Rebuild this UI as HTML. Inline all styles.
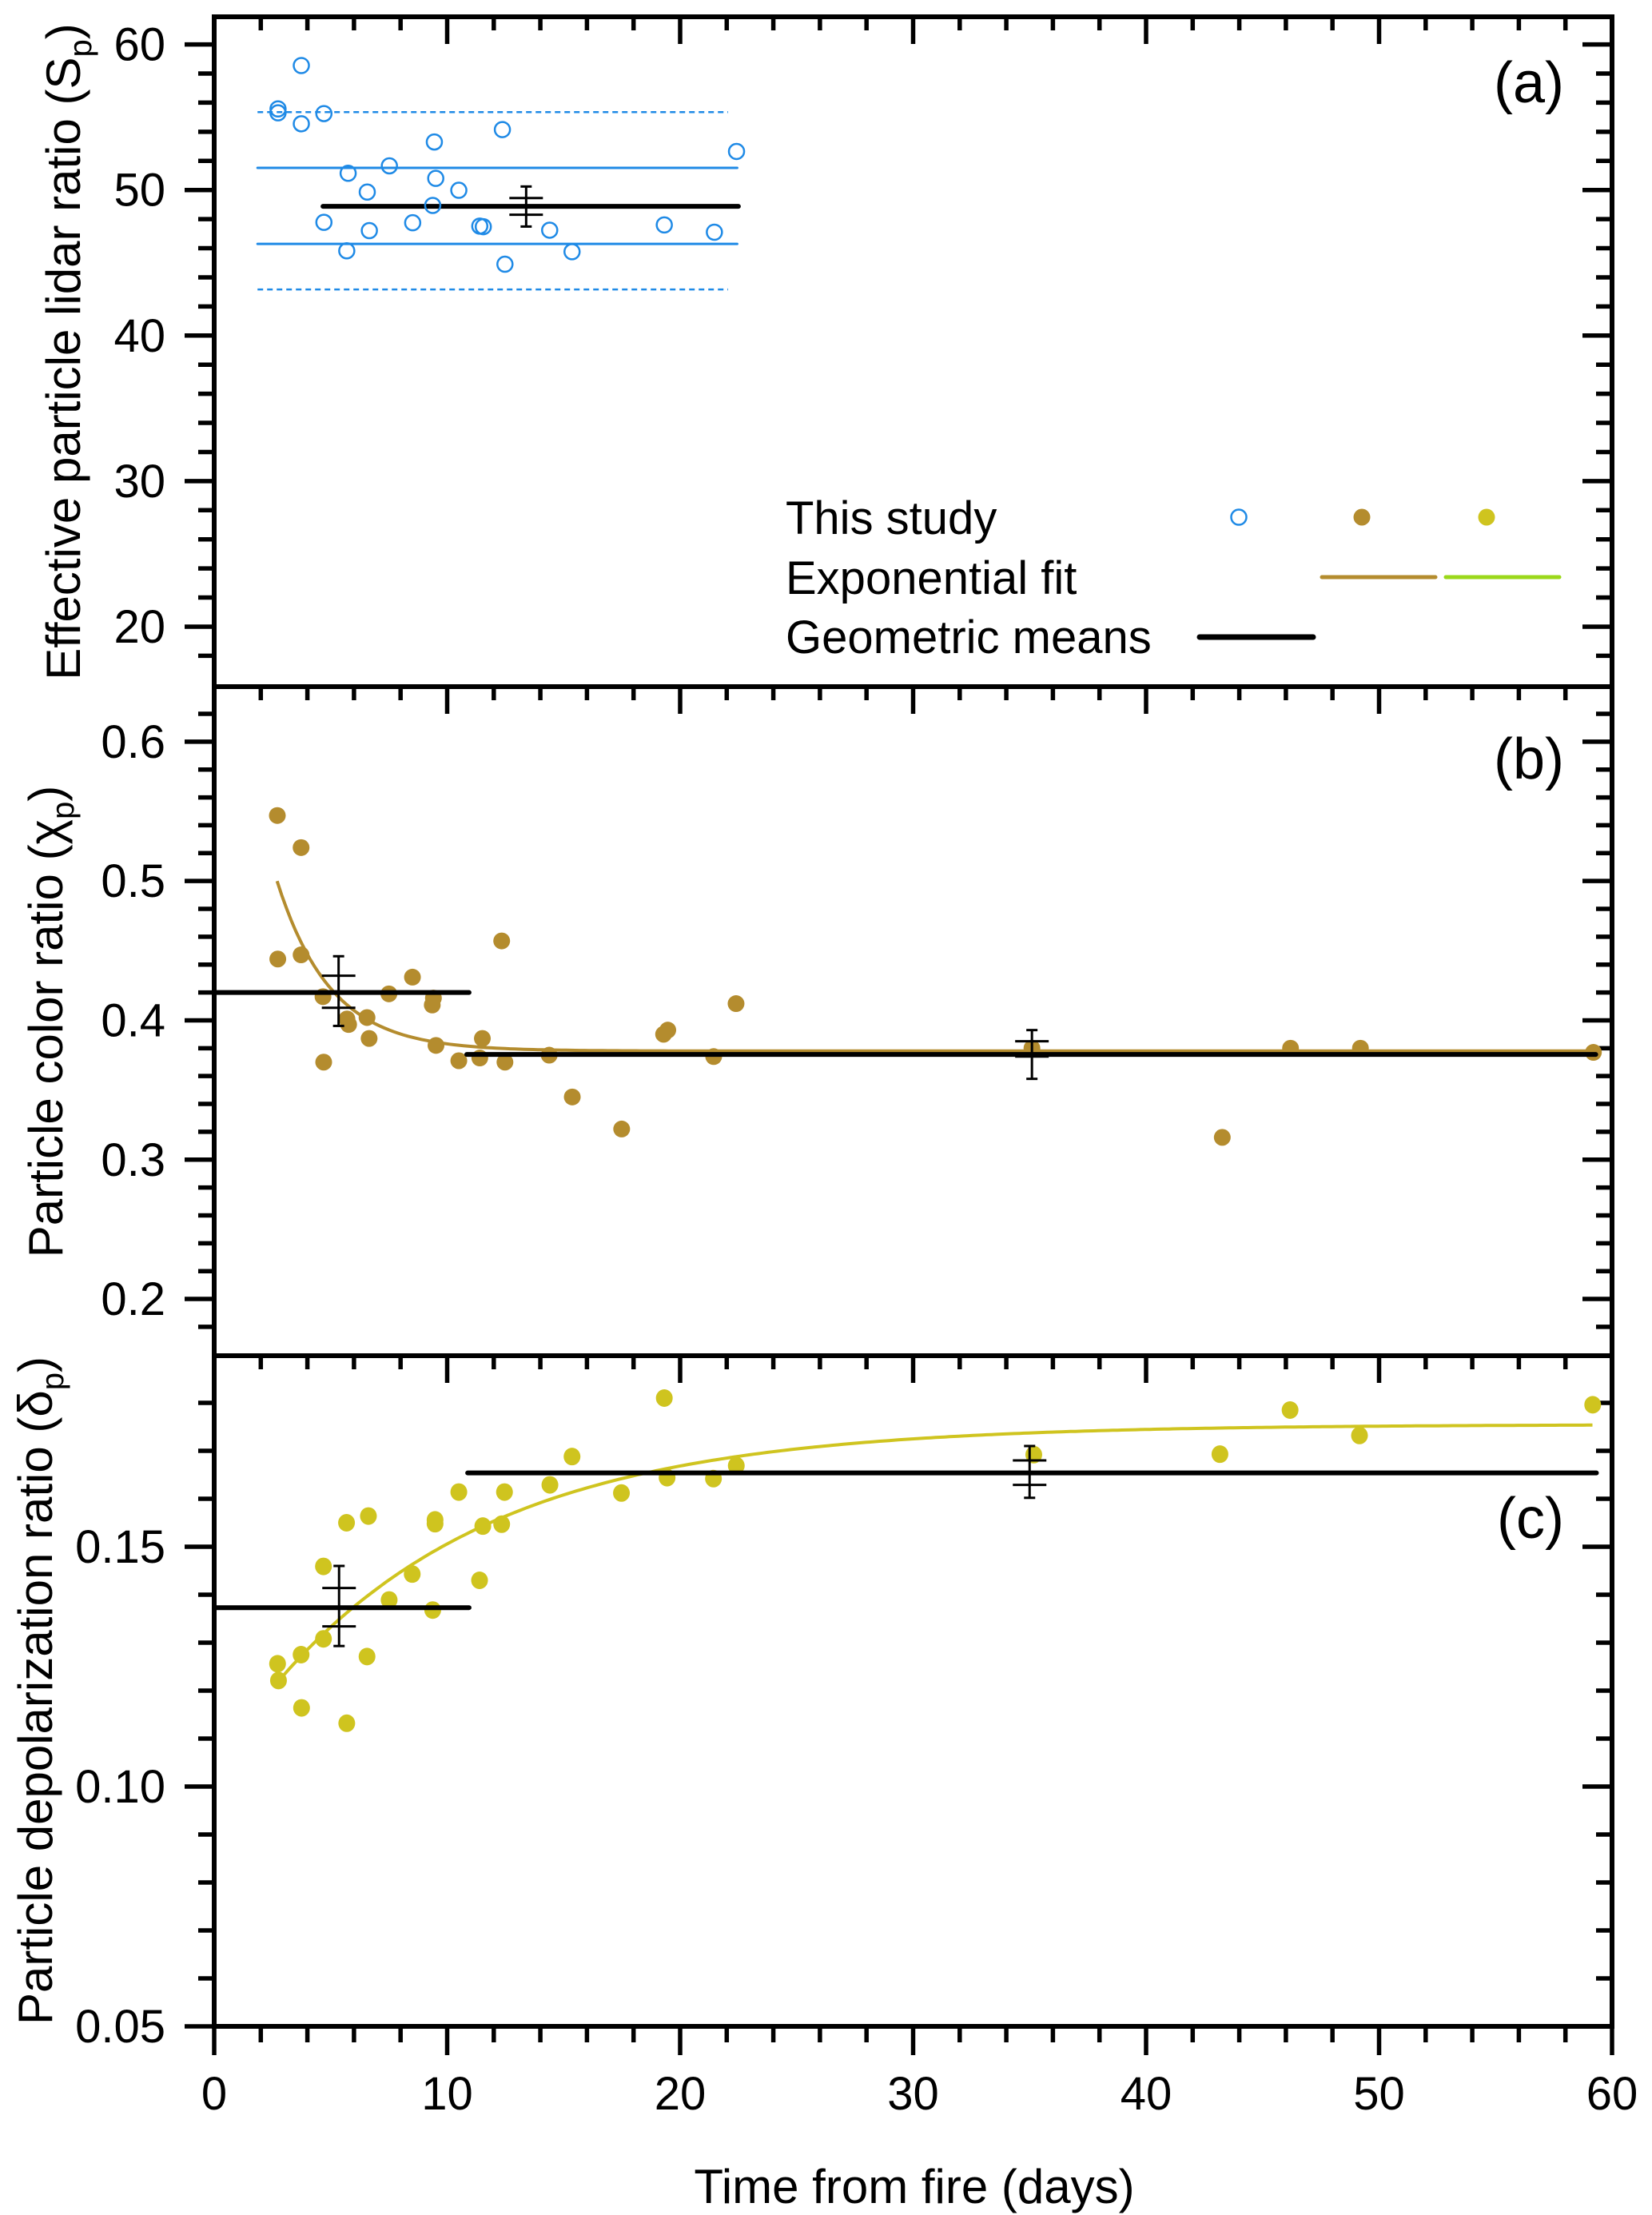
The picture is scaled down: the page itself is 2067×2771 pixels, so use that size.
<!DOCTYPE html>
<html><head><meta charset="utf-8"><title>Smoke optical properties vs time from fire</title>
<style>
html,body{margin:0;padding:0;background:#fff;}
svg{display:block;font-family:"Liberation Sans",Arial,sans-serif;}
</style></head>
<body>
<svg id="chart" width="2067" height="2771" viewBox="0 0 2067 2771" xmlns="http://www.w3.org/2000/svg">
<rect x="0" y="0" width="2067" height="2771" fill="#fff"/>
<g id="layer"></g>
<text x="1144" y="2756" font-size="60" text-anchor="middle">Time from fire (days)</text>
<text transform="translate(100,440) rotate(-90)" font-size="60" text-anchor="middle">Effective particle lidar ratio (S<tspan font-size="40" dy="14">p</tspan><tspan dy="-14">)</tspan></text>
<text transform="translate(78,1278) rotate(-90)" font-size="60" text-anchor="middle">Particle color ratio (χ<tspan font-size="40" dy="14">p</tspan><tspan dy="-14">)</tspan></text>
<text transform="translate(65,2115) rotate(-90)" font-size="60" text-anchor="middle">Particle depolarization ratio (δ<tspan font-size="40" dy="14">p</tspan><tspan dy="-14">)</tspan></text>
<text x="1957" y="128" font-size="72" text-anchor="end">(a)</text>
<text x="1957" y="974" font-size="72" text-anchor="end">(b)</text>
<text x="1957" y="1924" font-size="72" text-anchor="end">(c)</text>
<g>
<text x="983" y="668" font-size="58">This study</text>
<text x="983" y="743" font-size="58">Exponential fit</text>
<text x="983" y="817" font-size="58">Geometric means</text>
<circle cx="1550" cy="647" r="9.5" fill="none" stroke="#1f8ae6" stroke-width="2.5"/>
<circle cx="1704" cy="647" r="10.5" fill="#b48c2e"/>
<circle cx="1860" cy="647" r="10.5" fill="#cfc41f"/>
<line x1="1654" y1="722" x2="1796" y2="722" stroke="#b48c2e" stroke-width="5" stroke-linecap="round"/>
<line x1="1809" y1="722" x2="1951" y2="722" stroke="#9bd81a" stroke-width="5" stroke-linecap="round"/>
<line x1="1501" y1="797" x2="1643" y2="797" stroke="#000" stroke-width="7" stroke-linecap="round"/>
</g>
</svg>
<script>
// ---- data ----
const spX = [2.74,2.74,3.74,3.74,4.71,4.71,5.69,5.75,6.57,6.66,7.52,8.52,9.45,9.51,9.38,10.5,11.4,11.55,12.37,12.48,14.4,15.36,19.32,21.47,22.42];
const spY = [55.57,55.3,58.55,54.55,55.25,47.78,45.82,51.15,49.86,47.21,51.66,47.75,53.3,50.8,48.94,49.98,47.52,47.48,54.15,44.9,47.24,45.76,47.6,47.1,52.65];
const spMean = 48.88, spMeanX = [4.67,22.5];
const spSigma = [51.52,46.3], spSigma2 = [55.35,43.17];
const spSigmaX = [1.86,22.45], spSigma2X = [1.86,22.06];
const spErrX = 13.39, spErr = [50.24,47.49], spErrCaps = [49.45,48.3];

const crX = [2.71,3.73,2.73,3.73,4.67,4.7,5.7,5.77,6.56,6.65,7.5,8.51,9.41,9.36,9.52,10.5,11.4,11.51,12.34,12.48,14.38,15.37,17.49,19.29,19.47,21.44,22.4,35.1,43.27,46.2,49.2,59.2];
const crY = [0.547,0.524,0.444,0.447,0.417,0.370,0.401,0.397,0.402,0.387,0.419,0.431,0.416,0.411,0.382,0.371,0.373,0.387,0.457,0.370,0.375,0.345,0.322,0.390,0.393,0.374,0.412,0.380,0.316,0.380,0.380,0.377];
const crFit = [0.378,0.122,2.7,2.3]; // asymptote, amplitude, x0, tau
const crFitRange = [2.7,59.2];
const crMeans = [0.420,0.3755], crMeansX = [[0,10.94],[10.84,59.3]];
const crErrX = [5.34,35.1], crErr = [[0.446,0.396],[0.393,0.358]], crErrCaps = [[0.432,0.409],[0.385,0.374]];

const dpX = [2.72,2.76,3.73,3.75,4.69,4.69,5.68,5.69,6.62,6.56,7.51,8.5,9.48,9.48,9.38,10.5,11.39,11.53,12.34,12.46,14.41,15.36,17.48,19.32,19.44,21.43,22.41,35.18,43.17,46.18,49.16,59.17];
const dpY = [0.1256,0.1221,0.1275,0.1164,0.1459,0.1308,0.155,0.1132,0.1564,0.1271,0.1389,0.1443,0.1556,0.1548,0.1368,0.1614,0.143,0.1543,0.1547,0.1614,0.1629,0.1688,0.1612,0.1810,0.1644,0.1642,0.1669,0.1692,0.1693,0.1785,0.1732,0.1796];
const dpFit = [0.1755,0.0524,2.96,9.47];
const dpFitRange = [2.96,59.2];
const dpMeans = [0.1373,0.1654], dpMeansX = [[0,10.94],[10.88,59.33]];
const dpErrX = [5.36,35.0], dpErr = [[0.146,0.1293],[0.171,0.1602]], dpErrCaps = [[0.1414,0.1334],[0.168,0.1629]];

const xTicks = [0,10,20,30,40,50,60];
const ticksA = [20,30,40,50,60], ticksB = [0.2,0.3,0.4,0.5,0.6], ticksC = [0.05,0.10,0.15];
const labelsC = ["0.05","0.10","0.15"];

// ---- geometry ----
const NS="http://www.w3.org/2000/svg";
const layer=document.getElementById('layer');
const L=268, R=2017;
function X(d){return L+(R-L)*d/60;}
function mk(tag,attrs,parent){const e=document.createElementNS(NS,tag);for(const k in attrs)e.setAttribute(k,attrs[k]);(parent||layer).appendChild(e);return e;}
const panels=[
 {id:'a',top:21,bot:859,vmin:15.88,vmax:61.9,major:ticksA,minorStep:2,labels:ticksA.map(String)},
 {id:'b',top:859,bot:1696,vmin:0.1593,vmax:0.6395,major:ticksB,minorStep:0.02,labels:ticksB.map(v=>v.toFixed(1))},
 {id:'c',top:1696,bot:2535,vmin:0.05,vmax:0.18983,major:ticksC,minorStep:0.01,labels:labelsC}
];
panels.forEach(p=>{p.Y=v=>p.bot-(v-p.vmin)/(p.vmax-p.vmin)*(p.bot-p.top);});
const [PA,PB,PC]=panels;

panels.forEach((p,i)=>{
 const g=mk('g',{});
 
 
 const fr=mk('rect',{x:L,y:p.top,width:R-L,height:p.bot-p.top,fill:'none',stroke:'#000','stroke-width':6},g);
 
 
 for(let d=0;d<=60.001;d+=2){
  const maj=Math.abs(d%10)<1e-6;
  const len=maj?34:17;
  mk('line',{x1:X(d),y1:p.top,x2:X(d),y2:p.top+len,stroke:'#000','stroke-width':5.5},g);
  if(i===2){mk('line',{x1:X(d),y1:p.bot,x2:X(d),y2:p.bot+(maj?36:20),stroke:'#000','stroke-width':5.5},g);}
 }
 const start=Math.ceil(p.vmin/p.minorStep-1e-6)*p.minorStep;
 for(let v=start;v<=p.vmax+1e-9;v+=p.minorStep){
  const maj=p.major.some(m=>Math.abs(m-v)<p.minorStep/10);
  const y=p.Y(v);
  if(Math.abs(y-p.top)<3||Math.abs(y-p.bot)<3&&!maj) continue;
  mk('line',{x1:L,y1:y,x2:L-(maj?37:20),y2:y,stroke:'#000','stroke-width':5.5},g);
  mk('line',{x1:R,y1:y,x2:R-(maj?37:20),y2:y,stroke:'#000','stroke-width':5.5},g);
 }
 p.major.forEach((m,k)=>{
  const t=mk('text',{x:207,y:p.Y(m)+20,'font-size':58,'text-anchor':'end'},g);
  t.textContent=p.labels[k];
  
  
 });
});
xTicks.forEach(d=>{
 const t=mk('text',{x:X(d),y:2639,'font-size':58,'text-anchor':'middle'});
 t.textContent=String(d);
 
 
});

function hline(p,x0,x1,v,color,w,dash,name){
 const l=mk('line',{x1:X(x0),x2:X(x1),y1:p.Y(v),y2:p.Y(v),stroke:color,'stroke-width':w,'stroke-linecap':'round'});
 if(dash)l.setAttribute('stroke-dasharray',dash),l.setAttribute('stroke-linecap','butt');
 
 
}
function errbar(p,x,range,caps,name){
 const g=mk('g',{});
 
 
 const cx=X(x);
 mk('line',{x1:cx,x2:cx,y1:p.Y(range[0]),y2:p.Y(range[1]),stroke:'#000','stroke-width':3},g);
 range.forEach(v=>mk('line',{x1:cx-7,x2:cx+7,y1:p.Y(v),y2:p.Y(v),stroke:'#000','stroke-width':3},g));
 caps.forEach(v=>mk('line',{x1:cx-21,x2:cx+21,y1:p.Y(v),y2:p.Y(v),stroke:'#000','stroke-width':3},g));
}
function fitPath(p,par,range,color,name){
 let d='';
 for(let x=range[0];x<=range[1]+1e-9;x+=0.2){
  const v=par[0]+(p===PB?1:-1)*par[1]*Math.exp(-(x-par[2])/par[3]);
  d+=(d?'L':'M')+X(x).toFixed(1)+','+p.Y(v).toFixed(1);
 }
 const e=mk('path',{d:d,fill:'none',stroke:color,'stroke-width':4});
 
 
}

const BLUE='#1f8ae6';
hline(PA,spSigma2X[0],spSigma2X[1],spSigma2[0],BLUE,2.5,'7,5','sp-2sigma-upper');
hline(PA,spSigma2X[0],spSigma2X[1],spSigma2[1],BLUE,2.5,'7,5','sp-2sigma-lower');
hline(PA,spSigmaX[0],spSigmaX[1],spSigma[0],BLUE,3,null,'sp-sigma-upper');
hline(PA,spSigmaX[0],spSigmaX[1],spSigma[1],BLUE,3,null,'sp-sigma-lower');
hline(PA,spMeanX[0],spMeanX[1],spMean,'#000',6,null,'sp-geometric-mean');
errbar(PA,spErrX,spErr,spErrCaps,'sp-error-bar');
spX.forEach((x,i)=>{
 const c=mk('circle',{cx:X(x),cy:PA.Y(spY[i]),r:9.5,fill:'none',stroke:BLUE,'stroke-width':2.5});
 
 
});

const BROWN='#b48c2e';
fitPath(PB,crFit,crFitRange,BROWN,'color-ratio-fit');
crX.forEach((x,i)=>{
 const c=mk('circle',{cx:X(x),cy:PB.Y(crY[i]),r:10.5,fill:BROWN});
 
 
});
crMeans.forEach((m,i)=>hline(PB,crMeansX[i][0],crMeansX[i][1],m,'#000',6,null,'color-ratio-mean'));
crErrX.forEach((x,i)=>errbar(PB,x,crErr[i],crErrCaps[i],'color-ratio-error-bar'));

const YEL='#cfc41f';
dpX.forEach((x,i)=>{
 const c=mk('ellipse',{cx:X(x),cy:PC.Y(dpY[i]),rx:10.5,ry:11,fill:YEL});
 
 
});
fitPath(PC,dpFit,dpFitRange,YEL,'depol-fit');
dpMeans.forEach((m,i)=>hline(PC,dpMeansX[i][0],dpMeansX[i][1],m,'#000',6,null,'depol-mean'));
dpErrX.forEach((x,i)=>errbar(PC,x,dpErr[i],dpErrCaps[i],'depol-error-bar'));
</script>
</body></html>
